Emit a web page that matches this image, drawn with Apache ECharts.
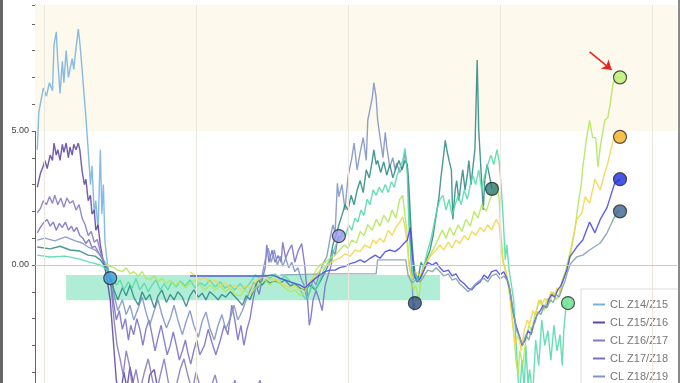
<!DOCTYPE html>
<html><head><meta charset="utf-8">
<script src="https://cdn.jsdelivr.net/npm/echarts@6/dist/echarts.min.js"></script>
<style>html,body{margin:0;padding:0;background:#fff;overflow:hidden;width:680px;height:383px}#c{width:680px;height:520px}</style>
</head><body><div id="c"></div><script>
// ---- data: [decimal year, spread value] ----
const z14z15 = [[2013.91,4.3],[2013.93,5.7],[2013.99,6.6],[2014.03,6.3],[2014.07,6.8],[2014.11,6.5],[2014.13,8.2],[2014.16,8.7],[2014.18,7.6],[2014.21,6.4],[2014.24,7.6],[2014.26,6.8],[2014.29,8.0],[2014.32,7.0],[2014.34,7.3],[2014.37,7.7],[2014.39,7.3],[2014.42,8.1],[2014.45,8.8],[2014.47,8.3],[2014.50,7.3],[2014.53,6.2],[2014.55,5.5],[2014.58,4.3],[2014.61,3.0],[2014.63,3.7],[2014.66,1.9],[2014.68,2.4],[2014.71,1.3],[2014.74,4.3],[2014.76,1.9],[2014.78,3.0],[2014.80,0.9],[2014.83,0.1],[2014.87,-0.49]];
const z15z16 = [[2013.91,2.9],[2013.95,3.4],[2013.99,3.7],[2014.01,3.9],[2014.04,3.6],[2014.08,4.1],[2014.11,3.9],[2014.13,4.55],[2014.16,4.1],[2014.18,4.3],[2014.21,3.9],[2014.24,4.5],[2014.26,4.2],[2014.29,4.55],[2014.32,4.0],[2014.34,4.4],[2014.37,4.1],[2014.39,4.5],[2014.42,4.3],[2014.45,4.55],[2014.47,4.3],[2014.50,3.5],[2014.53,3.0],[2014.55,3.2],[2014.58,2.4],[2014.61,2.6],[2014.63,1.9],[2014.66,2.05],[2014.68,1.3],[2014.71,1.5],[2014.74,0.75],[2014.78,0.1],[2014.82,-0.37],[2014.87,-1.3],[2014.91,-2.8],[2014.95,-4.3],[2015.00,-4.9],[2015.05,-4.0],[2015.09,-4.6],[2015.13,-3.8],[2015.18,-4.5],[2015.24,-5.2],[2015.29,-4.4],[2015.34,-5.0],[2015.39,-4.1],[2015.45,-3.9],[2015.50,-4.7],[2015.55,-5.4],[2015.61,-4.8],[2015.66,-5.6],[2015.71,-4.9],[2015.76,-5.5],[2015.82,-4.7],[2015.87,-4.9]];
const z16z17 = [[2013.91,1.95],[2013.95,2.1],[2013.99,2.4],[2014.03,2.25],[2014.07,2.55],[2014.11,2.3],[2014.14,2.6],[2014.18,2.25],[2014.22,2.5],[2014.26,2.15],[2014.30,2.5],[2014.34,2.3],[2014.38,2.4],[2014.42,2.05],[2014.46,2.25],[2014.50,1.75],[2014.54,1.5],[2014.58,1.1],[2014.62,1.25],[2014.66,0.85],[2014.70,0.95],[2014.74,0.5],[2014.79,0.1],[2014.84,-0.25],[2014.88,-0.75],[2014.92,-2.05],[2014.96,-3.0],[2015.00,-3.5],[2015.04,-4.1],[2015.08,-3.2],[2015.12,-3.7],[2015.16,-4.5],[2015.21,-3.9],[2015.26,-4.7],[2015.32,-4.0],[2015.37,-3.5],[2015.42,-4.2],[2015.47,-4.9],[2015.53,-4.1],[2015.58,-3.5],[2015.63,-4.3],[2015.68,-4.9],[2015.74,-4.5],[2015.79,-3.9],[2015.84,-3.5],[2015.89,-4.1],[2015.95,-4.7],[2016.00,-4.0],[2016.05,-4.5],[2016.12,-5.0],[2016.18,-4.7],[2016.25,-4.1],[2016.32,-4.9],[2016.38,-5.4],[2016.45,-4.9],[2016.51,-4.3],[2016.58,-4.9],[2016.64,-4.5],[2016.71,-5.0],[2016.78,-4.7],[2016.84,-4.3],[2016.88,-4.7]];
const z17z18 = [[2013.91,1.2],[2013.95,1.4],[2014.00,1.6],[2014.04,1.7],[2014.08,1.45],[2014.12,1.6],[2014.16,1.3],[2014.20,1.55],[2014.24,1.4],[2014.28,1.6],[2014.32,1.3],[2014.36,1.45],[2014.39,1.25],[2014.43,1.4],[2014.47,1.1],[2014.51,1.0],[2014.55,0.8],[2014.59,0.95],[2014.63,0.65],[2014.67,0.7],[2014.71,0.5],[2014.76,0.25],[2014.82,-0.1],[2014.87,-0.55],[2014.91,-1.3],[2014.95,-2.05],[2014.99,-1.7],[2015.03,-2.4],[2015.07,-2.0],[2015.11,-2.8],[2015.14,-2.25],[2015.18,-2.6],[2015.22,-2.0],[2015.26,-2.4],[2015.30,-3.0],[2015.34,-2.4],[2015.38,-2.05],[2015.42,-2.6],[2015.46,-3.2],[2015.50,-2.7],[2015.54,-2.25],[2015.58,-2.8],[2015.62,-3.35],[2015.66,-3.0],[2015.70,-2.5],[2015.74,-3.0],[2015.78,-3.55],[2015.82,-3.2],[2015.86,-2.8],[2015.89,-3.25],[2015.93,-3.7],[2015.97,-3.2],[2016.01,-2.8],[2016.05,-3.35],[2016.11,-3.0],[2016.16,-2.4],[2016.21,-2.9],[2016.26,-3.35],[2016.32,-2.8],[2016.37,-2.25],[2016.42,-2.6],[2016.47,-1.5],[2016.51,-2.05],[2016.55,-2.8],[2016.59,-2.25],[2016.63,-3.0],[2016.67,-2.4],[2016.71,-2.0],[2016.75,-1.3],[2016.79,-0.75],[2016.83,-1.1],[2016.87,-0.55],[2016.91,-0.1],[2016.93,0.75],[2016.96,0.1],[2017.00,0.55],[2017.04,0.1],[2017.08,0.35],[2017.12,0.1],[2017.14,0.85],[2017.18,0.25],[2017.22,0.55],[2017.26,0.75],[2017.30,0.1],[2017.34,0.5],[2017.39,0.8],[2017.43,0.0],[2017.46,-0.95],[2017.49,-2.25],[2017.51,-2.0],[2017.54,-1.3],[2017.58,-0.95],[2017.62,-1.3],[2017.66,-1.7],[2017.70,-0.75],[2017.74,-0.37],[2017.78,0.0],[2017.80,0.55],[2017.83,0.37],[2017.86,0.93],[2017.88,1.08]];
const z18z19 = [[2013.91,0.93],[2014.01,1.0],[2014.14,0.9],[2014.28,1.05],[2014.41,0.9],[2014.50,0.82],[2014.58,0.67],[2014.67,0.56],[2014.74,0.37],[2014.80,0.1],[2014.87,-0.37],[2014.92,-1.1],[2014.97,-1.7],[2015.03,-1.3],[2015.08,-1.85],[2015.13,-1.5],[2015.18,-2.05],[2015.24,-1.6],[2015.29,-1.2],[2015.34,-1.75],[2015.39,-2.25],[2015.45,-1.7],[2015.50,-1.3],[2015.55,-1.85],[2015.61,-2.35],[2015.66,-2.0],[2015.71,-1.5],[2015.76,-2.05],[2015.82,-2.6],[2015.87,-2.1],[2015.92,-1.7],[2015.97,-2.25],[2016.03,-2.7],[2016.08,-2.1],[2016.13,-1.75],[2016.18,-2.35],[2016.24,-2.8],[2016.29,-2.25],[2016.34,-1.85],[2016.39,-2.4],[2016.45,-2.0],[2016.50,-1.5],[2016.55,-2.05],[2016.61,-1.7],[2016.66,-1.3],[2016.71,-0.95],[2016.76,-0.65],[2016.82,-0.85],[2016.87,-0.37],[2016.91,0.19],[2016.95,0.63],[2016.99,0.1],[2017.03,0.56],[2017.07,0.0],[2017.11,0.33],[2017.14,-0.05],[2017.18,0.25],[2017.22,-0.1],[2017.26,0.1],[2017.30,-0.25],[2017.34,-0.1],[2017.38,-0.5],[2017.42,-0.75],[2017.46,-1.3],[2017.50,-0.95],[2017.54,-0.55],[2017.58,-0.75],[2017.63,-0.25],[2017.68,0.1],[2017.72,0.3],[2017.76,0.93],[2017.80,1.5],[2017.83,1.2],[2017.86,3.05],[2017.88,2.55],[2017.92,3.0],[2017.96,2.05],[2018.00,3.3],[2018.05,4.0],[2018.08,4.55],[2018.12,3.55],[2018.16,4.2],[2018.20,4.75],[2018.24,3.9],[2018.26,5.4],[2018.32,6.25],[2018.34,6.8],[2018.37,6.25],[2018.39,5.4],[2018.42,4.8],[2018.46,4.0],[2018.49,4.95],[2018.51,4.4],[2018.55,3.65],[2018.59,4.0],[2018.62,3.55],[2018.64,3.8],[2018.68,3.45],[2018.72,3.65],[2018.75,4.2],[2018.78,3.65],[2018.80,2.45],[2018.83,0.2],[2018.86,-1.7],[2018.88,-1.42]];
const z19z20 = [[2013.91,0.67],[2014.08,0.6],[2014.21,0.7],[2014.34,0.56],[2014.47,0.52],[2014.58,0.37],[2014.67,0.33],[2014.74,0.19],[2014.80,-0.05],[2014.87,-0.4],[2014.92,-0.93],[2014.97,-1.3],[2015.03,-0.85],[2015.08,-1.15],[2015.13,-0.75],[2015.18,-1.2],[2015.24,-1.5],[2015.29,-1.0],[2015.34,-1.3],[2015.39,-1.1],[2015.45,-1.6],[2015.50,-1.15],[2015.55,-0.93],[2015.61,-1.4],[2015.66,-1.1],[2015.71,-1.3],[2015.76,-1.0],[2015.82,-1.2],[2015.87,-1.55],[2015.92,-1.15],[2015.97,-0.93],[2016.03,-1.2],[2016.08,-1.05],[2016.13,-1.3],[2016.18,-1.0],[2016.24,-1.15],[2016.29,-1.3],[2016.34,-1.1],[2016.39,-1.2],[2016.45,-1.0],[2016.50,-1.15],[2016.55,-1.3],[2016.61,-1.5],[2016.66,-1.15],[2016.71,-1.3],[2016.76,-0.93],[2016.82,-0.55],[2016.87,-0.75],[2016.92,-0.56],[2016.97,-0.67],[2017.04,-0.6],[2017.11,-0.67],[2017.17,-0.56],[2017.24,-0.78],[2017.30,-0.7],[2017.37,-0.86],[2017.43,-0.93],[2017.50,-0.75],[2017.57,-0.93],[2017.63,-0.63],[2017.70,-0.25],[2017.76,0.1],[2017.80,0.75],[2017.84,1.1],[2017.88,1.5],[2017.92,1.85],[2017.96,2.25],[2018.00,2.05],[2018.04,2.6],[2018.08,2.25],[2018.12,2.8],[2018.16,3.15],[2018.20,2.7],[2018.24,3.55],[2018.28,3.25],[2018.32,3.9],[2018.34,4.3],[2018.37,3.75],[2018.39,3.9],[2018.43,3.45],[2018.47,3.85],[2018.51,3.35],[2018.55,3.75],[2018.59,3.25],[2018.63,3.6],[2018.67,3.9],[2018.71,3.55],[2018.75,3.9],[2018.78,3.75],[2018.80,3.0],[2018.83,1.3],[2018.86,0.2],[2018.88,-0.25],[2018.92,-0.55],[2018.96,0.1],[2019.00,-0.1],[2019.04,0.25],[2019.08,0.56],[2019.12,1.1],[2019.16,1.85],[2019.20,2.6],[2019.22,3.2],[2019.25,3.9],[2019.28,4.65],[2019.30,4.3],[2019.33,3.9],[2019.36,3.55],[2019.38,1.7],[2019.41,2.8],[2019.43,3.15],[2019.46,2.4],[2019.49,3.15],[2019.51,3.55],[2019.54,2.8],[2019.57,3.35],[2019.59,3.9],[2019.62,3.0],[2019.64,3.55],[2019.67,4.3],[2019.70,7.65],[2019.72,5.05],[2019.75,3.55],[2019.78,2.05],[2019.80,3.15],[2019.83,3.75],[2019.86,3.35],[2019.895,2.84]];
const z20z21 = [[2013.91,0.37],[2014.08,0.3],[2014.28,0.33],[2014.47,0.22],[2014.61,0.1],[2014.74,0.0],[2014.84,-0.2],[2014.89,-0.5],[2014.95,-0.75],[2015.00,-0.56],[2015.05,-0.93],[2015.11,-0.63],[2015.16,-0.86],[2015.21,-0.5],[2015.26,-0.93],[2015.32,-0.67],[2015.37,-1.0],[2015.42,-0.75],[2015.47,-0.56],[2015.53,-0.93],[2015.58,-0.7],[2015.63,-0.93],[2015.68,-0.63],[2015.74,-0.82],[2015.79,-0.6],[2015.86,-0.78],[2015.92,-0.56],[2015.99,-0.86],[2016.05,-0.67],[2016.12,-0.78],[2016.18,-0.56],[2016.25,-0.82],[2016.32,-0.63],[2016.38,-0.86],[2016.45,-0.75],[2016.51,-0.93],[2016.58,-0.7],[2016.64,-0.9],[2016.71,-0.67],[2016.78,-0.37],[2016.84,-0.5],[2016.91,-0.37],[2016.97,-0.5],[2017.04,-0.33],[2017.11,-0.56],[2017.17,-0.41],[2017.24,-0.63],[2017.30,-0.75],[2017.37,-0.93],[2017.41,-1.15],[2017.45,-1.3],[2017.49,-1.05],[2017.53,-0.75],[2017.58,-0.93],[2017.63,-0.56],[2017.68,-0.19],[2017.74,0.1],[2017.79,0.37],[2017.84,0.75],[2017.89,0.93],[2017.93,1.25],[2017.97,1.1],[2018.01,1.5],[2018.05,1.3],[2018.09,1.75],[2018.13,1.6],[2018.17,2.05],[2018.21,1.85],[2018.25,2.45],[2018.29,2.25],[2018.33,2.8],[2018.37,2.6],[2018.41,2.9],[2018.45,2.7],[2018.49,3.0],[2018.53,2.7],[2018.57,3.1],[2018.61,2.9],[2018.64,3.3],[2018.68,3.6],[2018.72,3.9],[2018.75,4.35],[2018.78,3.4],[2018.80,1.5],[2018.83,0.2],[2018.86,-0.55],[2018.89,-0.37],[2018.93,-0.63],[2018.97,-0.25],[2019.01,0.1],[2019.05,0.56],[2019.09,0.93],[2019.13,1.5],[2019.17,2.05],[2019.21,2.45],[2019.25,2.6],[2019.29,2.05],[2019.33,2.45],[2019.37,1.85],[2019.41,2.25],[2019.45,2.6],[2019.49,2.25],[2019.53,2.8],[2019.57,2.45],[2019.61,3.0],[2019.64,3.35],[2019.68,3.0],[2019.72,3.55],[2019.76,2.8],[2019.80,3.35],[2019.84,3.75],[2019.88,4.1],[2019.92,3.75],[2019.96,4.3],[2019.99,3.85],[2020.01,3.15],[2020.04,1.85],[2020.07,0.2],[2020.09,0.75],[2020.12,-0.19],[2020.14,-0.56],[2020.18,-1.3],[2020.21,-2.8],[2020.24,-4.3],[2020.26,-4.85],[2020.29,-3.55],[2020.32,-4.65],[2020.34,-3.0],[2020.37,-4.5],[2020.39,-3.9],[2020.43,-4.85],[2020.47,-2.8],[2020.51,-3.75],[2020.55,-2.05],[2020.59,-3.0],[2020.63,-2.45],[2020.67,-3.55],[2020.71,-2.25],[2020.75,-3.2],[2020.79,-2.6],[2020.82,-3.75],[2020.84,-2.45],[2020.87,-1.5],[2020.895,-1.42]];
const z21z22 = [[2014.80,0.07],[2014.87,-0.05],[2014.92,-0.1],[2014.97,-0.19],[2015.03,-0.25],[2015.08,-0.1],[2015.13,-0.33],[2015.18,-0.25],[2015.24,-0.41],[2015.29,-0.25],[2015.34,-0.5],[2015.39,-0.56],[2015.45,-0.41],[2015.50,-0.63],[2015.55,-0.5],[2015.61,-0.7],[2015.66,-0.56],[2015.72,-0.78],[2015.79,-0.63],[2015.86,-0.86],[2015.92,-0.7],[2015.99,-0.56],[2016.05,-0.75],[2016.12,-0.93],[2016.18,-0.75],[2016.25,-0.93],[2016.32,-0.78],[2016.38,-1.0],[2016.45,-0.86],[2016.51,-1.1],[2016.58,-1.15],[2016.64,-0.93],[2016.71,-1.1],[2016.78,-0.86],[2016.84,-0.7],[2016.91,-0.56],[2016.97,-0.75],[2017.04,-0.56],[2017.11,-0.7],[2017.17,-0.86],[2017.24,-1.0],[2017.30,-0.93],[2017.37,-1.15],[2017.43,-1.0],[2017.47,-0.75],[2017.53,-0.5],[2017.58,-0.19],[2017.63,0.0],[2017.70,0.1],[2017.76,0.25],[2017.83,0.37],[2017.89,0.56],[2017.95,0.75],[2018.00,0.63],[2018.05,0.93],[2018.11,0.82],[2018.16,1.25],[2018.21,1.1],[2018.26,1.5],[2018.32,1.3],[2018.37,1.7],[2018.42,1.45],[2018.47,1.85],[2018.53,1.6],[2018.58,2.05],[2018.63,1.75],[2018.68,2.45],[2018.72,2.6],[2018.75,1.85],[2018.78,1.1],[2018.80,0.19],[2018.83,-0.37],[2018.86,-0.93],[2018.89,-0.75],[2018.93,-1.3],[2018.96,-0.56],[2019.00,-0.19],[2019.04,0.1],[2019.08,0.37],[2019.13,0.63],[2019.18,0.93],[2019.24,1.3],[2019.29,1.0],[2019.34,1.4],[2019.39,1.1],[2019.45,1.5],[2019.50,1.25],[2019.55,1.7],[2019.61,1.45],[2019.66,2.0],[2019.71,1.75],[2019.76,2.25],[2019.82,2.0],[2019.87,2.45],[2019.92,2.8],[2019.96,3.0],[2019.99,2.45],[2020.01,1.3],[2020.04,0.19],[2020.07,-0.19],[2020.11,-0.75],[2020.14,-1.3],[2020.18,-2.45],[2020.21,-3.55],[2020.24,-4.1],[2020.26,-3.2],[2020.30,-3.75],[2020.34,-2.8],[2020.38,-2.25],[2020.42,-2.45],[2020.46,-1.85],[2020.50,-1.5],[2020.54,-1.3],[2020.58,-1.7],[2020.62,-1.25],[2020.66,-1.4],[2020.70,-1.0],[2020.74,-1.3],[2020.78,-1.1],[2020.82,-0.56],[2020.86,-0.25],[2020.89,0.1],[2020.93,0.56],[2020.99,1.4],[2021.03,2.3],[2021.07,3.0],[2021.09,3.65],[2021.12,4.3],[2021.14,4.75],[2021.18,5.4],[2021.22,4.75],[2021.26,4.75],[2021.29,3.65],[2021.32,4.4],[2021.34,4.75],[2021.38,5.4],[2021.42,5.5],[2021.45,6.0],[2021.49,6.8],[2021.54,7.0],[2021.58,7.0]];
const z22z23 = [[2015.92,-0.25],[2015.99,-0.41],[2016.05,-0.56],[2016.12,-0.45],[2016.18,-0.67],[2016.25,-0.56],[2016.32,-0.78],[2016.38,-0.67],[2016.45,-0.86],[2016.51,-0.75],[2016.58,-0.93],[2016.64,-0.78],[2016.71,-0.86],[2016.78,-0.63],[2016.84,-0.5],[2016.91,-0.41],[2016.97,-0.56],[2017.04,-0.5],[2017.11,-0.67],[2017.17,-0.75],[2017.24,-0.86],[2017.30,-0.78],[2017.37,-0.93],[2017.43,-0.86],[2017.50,-0.63],[2017.57,-0.41],[2017.63,-0.19],[2017.70,-0.05],[2017.76,0.07],[2017.83,0.19],[2017.89,0.25],[2017.96,0.41],[2018.03,0.33],[2018.09,0.56],[2018.16,0.5],[2018.22,0.75],[2018.29,0.63],[2018.33,0.93],[2018.37,0.8],[2018.42,1.0],[2018.47,0.85],[2018.53,1.3],[2018.58,1.1],[2018.63,1.4],[2018.68,1.6],[2018.72,1.8],[2018.75,1.4],[2018.78,0.75],[2018.80,0.0],[2018.84,-0.5],[2018.89,-0.25],[2018.95,-0.41],[2019.00,-0.05],[2019.05,0.19],[2019.11,0.41],[2019.16,0.56],[2019.21,0.75],[2019.26,0.56],[2019.32,0.85],[2019.37,0.63],[2019.42,0.93],[2019.47,0.8],[2019.53,1.1],[2019.58,0.93],[2019.63,1.25],[2019.68,1.1],[2019.74,1.4],[2019.79,1.25],[2019.84,1.5],[2019.89,1.3],[2019.95,1.7],[2019.99,1.5],[2020.01,0.75],[2020.04,0.1],[2020.08,-0.25],[2020.12,-0.93],[2020.16,-2.05],[2020.20,-3.0],[2020.24,-2.6],[2020.28,-3.2],[2020.32,-2.45],[2020.36,-2.05],[2020.39,-2.25],[2020.43,-1.7],[2020.47,-1.85],[2020.51,-1.3],[2020.55,-1.5],[2020.59,-1.25],[2020.63,-1.4],[2020.67,-1.0],[2020.71,-1.15],[2020.75,-0.86],[2020.79,-1.0],[2020.83,-0.56],[2020.87,-0.25],[2020.91,0.1],[2020.95,0.75],[2021.01,1.7],[2021.08,1.95],[2021.12,2.55],[2021.18,2.3],[2021.25,3.2],[2021.32,2.8],[2021.38,3.45],[2021.42,3.8],[2021.46,4.3],[2021.49,4.65],[2021.54,4.78],[2021.58,4.78]];
const z23z24 = [[2015.92,-0.41],[2016.91,-0.41],[2017.00,-0.37],[2017.11,-0.5],[2017.24,-0.63],[2017.37,-0.75],[2017.43,-0.86],[2017.50,-0.67],[2017.57,-0.5],[2017.63,-0.37],[2017.70,-0.25],[2017.76,-0.19],[2017.83,-0.19],[2017.89,-0.1],[2017.96,-0.05],[2018.03,0.05],[2018.09,0.1],[2018.16,0.19],[2018.22,0.1],[2018.29,0.25],[2018.36,0.37],[2018.42,0.25],[2018.49,0.5],[2018.55,0.56],[2018.62,0.5],[2018.68,0.63],[2018.74,0.82],[2018.78,0.93],[2018.82,1.4],[2018.84,0.56],[2018.87,-0.37],[2018.91,-0.63],[2018.95,-0.5],[2019.00,-0.19],[2019.05,0.1],[2019.11,0.0],[2019.16,0.1],[2019.21,-0.1],[2019.26,-0.25],[2019.32,-0.19],[2019.37,-0.41],[2019.42,-0.33],[2019.47,-0.56],[2019.53,-0.7],[2019.58,-0.86],[2019.63,-0.93],[2019.68,-0.75],[2019.74,-0.63],[2019.79,-0.37],[2019.84,-0.5],[2019.89,-0.25],[2019.95,-0.19],[2020.00,-0.37],[2020.05,-0.25],[2020.09,-0.5],[2020.13,-0.93],[2020.17,-1.7],[2020.21,-2.25],[2020.25,-2.6],[2020.29,-3.0],[2020.33,-2.8],[2020.37,-2.45],[2020.41,-2.6],[2020.45,-2.15],[2020.49,-1.85],[2020.53,-1.7],[2020.57,-1.5],[2020.61,-1.6],[2020.64,-1.3],[2020.68,-1.1],[2020.72,-1.2],[2020.76,-0.93],[2020.80,-0.78],[2020.84,-0.5],[2020.88,-0.19],[2020.92,0.3],[2021.01,0.67],[2021.09,0.93],[2021.18,1.6],[2021.25,1.2],[2021.32,1.7],[2021.41,2.15],[2021.47,2.7],[2021.51,3.05],[2021.58,3.2]];
const z24z25 = [[2017.11,-0.37],[2017.76,-0.33],[2018.37,-0.33],[2018.39,0.19],[2018.76,0.19],[2018.79,-0.37],[2018.84,-0.67],[2018.89,-0.56],[2018.95,-0.63],[2019.00,-0.41],[2019.05,-0.19],[2019.11,-0.25],[2019.16,-0.1],[2019.21,-0.25],[2019.26,-0.41],[2019.32,-0.33],[2019.37,-0.56],[2019.42,-0.5],[2019.47,-0.7],[2019.53,-0.86],[2019.58,-1.0],[2019.63,-0.86],[2019.68,-0.7],[2019.74,-0.56],[2019.79,-0.5],[2019.84,-0.63],[2019.89,-0.41],[2019.95,-0.33],[2020.00,-0.52],[2020.05,-0.41],[2020.11,-0.63],[2020.14,-1.1],[2020.18,-1.85],[2020.22,-2.45],[2020.26,-2.7],[2020.30,-3.0],[2020.34,-2.6],[2020.38,-2.8],[2020.42,-2.35],[2020.46,-2.15],[2020.50,-1.75],[2020.54,-1.85],[2020.58,-1.5],[2020.62,-1.6],[2020.66,-1.3],[2020.70,-1.4],[2020.74,-1.1],[2020.78,-1.2],[2020.82,-0.86],[2020.86,-0.56],[2020.89,-0.25],[2020.93,0.05],[2021.01,0.3],[2021.09,0.37],[2021.18,0.56],[2021.32,0.82],[2021.41,1.2],[2021.49,1.7],[2021.55,2.0],[2021.58,2.0]];

const seriesNames = ['CL Z14/Z15','CL Z15/Z16','CL Z16/Z17','CL Z17/Z18','CL Z18/Z19','CL Z19/Z20','CL Z20/Z21','CL Z21/Z22','CL Z22/Z23','CL Z23/Z24','CL Z24/Z25'];
const spreadData = [z14z15, z15z16, z16z17, z17z18, z18z19, z19z20, z20z21, z21z22, z22z23, z23z24, z24z25];
// expiry / latest points
const expiryPoints = [[2014.87,-0.49],[2017.88,1.08],[2018.88,-1.42],[2019.895,2.84],[2020.895,-1.42],[2021.58,7.0],[2021.58,4.78],[2021.58,3.2],[2021.58,2.0]];
const yLabelStep = 5;
const gridYears = [2014, 2016, 2018, 2020, 2022];
const backwardationZone = [5, 9.7];
const highlightZone = [[2014.29,-0.37],[2019.21,-1.32]];
const arrowFrom = [2021.18, 7.95];
const arrowTo = [2021.47, 7.28];

// ---- styles ----
const seriesColors = ['#74b2e2','#5e46a0','#8478c0','#7a70c6','#7f93c4','#2f8a85','#52dba8','#b2e756','#f3d54a','#4a4ae0','#7fa0aa'];
const markerColors = ['#3fa0e0','#9a9af0','#2f4f7f','#2a7a70','#66e08a','#b8f070','#f4b020','#1a2ee0','#3a6590'];
const FONT = 'Liberation Sans, Arial, sans-serif';

const chart = echarts.init(document.getElementById('c'), null, {renderer: 'canvas'});

const lines = seriesNames.map((name, i) => ({
  name, type: 'line', data: spreadData[i], showSymbol: false, symbol: 'none',
  lineStyle: {width: 1.4, color: seriesColors[i], opacity: 0.88},
  itemStyle: {color: seriesColors[i]}, z: 3, silent: true, animation: false
}));

const background = {
  name: 'bg', type: 'line', data: [], z: 1, silent: true, animation: false,
  markArea: {silent: true, itemStyle: {color: '#fdf9ed'},
    data: [[{yAxis: backwardationZone[0]}, {yAxis: backwardationZone[1]}]]},
  markLine: {silent: true, symbol: 'none', label: {show: false},
    data: gridYears.map(y => ({xAxis: y, lineStyle: {color: '#ebe7df', width: 1, type: 'solid'}}))
      .concat([{yAxis: 0, lineStyle: {color: '#e6c0b2', width: 1.2, type: 'solid'}}])}
};

const overlay = {
  name: 'overlay', type: 'line', data: [], z: 4, silent: true, animation: false,
  markArea: {silent: true, itemStyle: {color: '#5fdcb0', opacity: 0.5},
    data: [[{coord: highlightZone[0]}, {coord: highlightZone[1]}]]},
  markLine: {silent: true, symbol: ['none', 'arrow'], symbolSize: 9, label: {show: false},
    lineStyle: {color: '#e8241c', width: 1.5, type: 'solid'},
    data: [[{coord: arrowFrom}, {coord: arrowTo}]]}
};

const markers = {
  name: 'markers', type: 'scatter', z: 6, silent: true, animation: false,
  symbolSize: 13,
  data: expiryPoints.map((p, i) => ({value: p, itemStyle: {color: markerColors[i], borderColor: '#2a2a2a', borderWidth: 1.2}}))
};

chart.setOption({
  animation: false,
  backgroundColor: '#fff',
  grid: {left: 35, right: 3, top: 5, height: 394},
  xAxis: {type: 'value', min: 2013.88, max: 2022.33, show: false},
  yAxis: {type: 'value', min: -5, max: 9.7, interval: 1,
    axisLine: {show: true, lineStyle: {color: '#666', width: 1}},
    axisTick: {show: true, length: 3, lineStyle: {color: '#666'}},
    axisLabel: {fontSize: 9, color: '#444', margin: 6, fontFamily: FONT,
      formatter: v => (Math.abs(v % yLabelStep) < 1e-6 ? v.toFixed(2) : '')},
    splitLine: {show: false}},
  legend: {data: seriesNames, orient: 'vertical', left: 581, top: 289,
    backgroundColor: '#fff', borderColor: '#dcdcdc', borderWidth: 1,
    padding: [9, 12, 9, 12], itemGap: 5, itemWidth: 12, itemHeight: 2, icon: 'rect',
    selectedMode: false,
    textStyle: {color: '#777', fontSize: 11, fontFamily: FONT, lineHeight: 13}},
  graphic: [
    {type: 'rect', left: 0, top: 0, shape: {width: 3, height: 520}, style: {fill: '#666'}, z: 100},
    {type: 'rect', left: 678, top: 0, shape: {width: 2, height: 520}, style: {fill: '#8a8a8a'}, z: 100}
  ],
  series: [background].concat(lines, [overlay, markers])
});
</script></body></html>
